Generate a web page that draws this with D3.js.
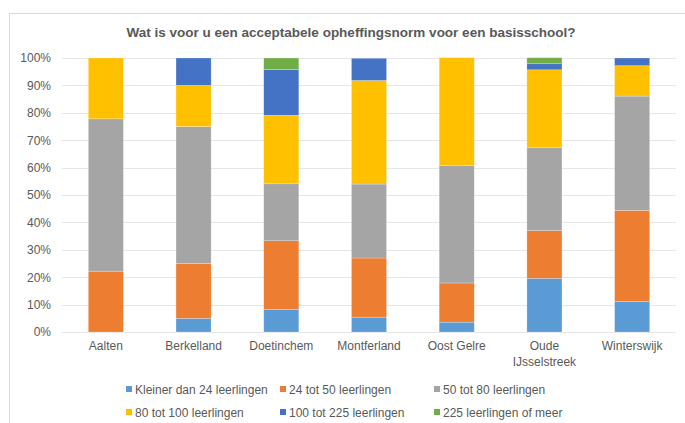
<!DOCTYPE html>
<html lang="nl">
<head>
<meta charset="utf-8">
<title>Opheffingsnorm basisschool</title>
<script src="https://cdn.jsdelivr.net/npm/d3@7"></script>
<style>
  body { margin: 0; background: #fff; }
  text { font-family: "Liberation Sans", Arial, sans-serif; }
</style>
</head>
<body>
<script>
// gemeenten
var categories = ["Aalten", "Berkelland", "Doetinchem", "Montferland", "Oost Gelre", "Oude IJsselstreek", "Winterswijk"];
var seriesNames = ["Kleiner dan 24 leerlingen", "24 tot 50 leerlingen", "50 tot 80 leerlingen",
                   "80 tot 100 leerlingen", "100 tot 225 leerlingen", "225 leerlingen of meer"];
// percentages per gemeente, in volgorde van seriesNames
var kleiner24 = [0, 5, 8.3, 5.4, 3.6, 19.6, 11.1];
var tot50     = [22.2, 20, 25, 21.6, 14.3, 17.4, 33.3];
var tot80     = [55.6, 50, 20.8, 27.0, 42.9, 30.4, 41.7];
var tot100    = [22.2, 15, 25, 37.8, 39.3, 28.3, 11.1];
var tot225    = [0, 10, 16.7, 8.1, 0, 2.2, 2.8];
var meer225   = [0, 0, 4.2, 0, 0, 2.2, 0];
var yTicks = [0, 10, 20, 30, 40, 50, 60, 70, 80, 90, 100];

var colors = ["#5B9BD5", "#ED7D31", "#A5A5A5", "#FFC000", "#4472C4", "#70AD47"];

var w = 685, h = 423;
var margin = { top: 58, right: 9, bottom: 91, left: 62 };

var rows = categories.map(function (c, i) {
    return { cat: c, s0: kleiner24[i], s1: tot50[i], s2: tot80[i], s3: tot100[i], s4: tot225[i], s5: meer225[i] };
});
var keys = ["s0", "s1", "s2", "s3", "s4", "s5"];
var stacked = d3.stack().keys(keys)(rows);

var x = d3.scaleBand().domain(categories).range([margin.left, w - margin.right]).paddingInner(0.6).paddingOuter(0.3);
var y = d3.scaleLinear().domain([0, 100]).range([h - margin.bottom, margin.top]);

var svg = d3.select("body").append("svg").attr("width", w).attr("height", h);

// kader
svg.append("rect").attr("x", 9.5).attr("y", 13.5).attr("width", 700).attr("height", 430)
    .attr("fill", "none").attr("stroke", "#d9d9d9");

svg.append("text").attr("x", 351).attr("y", 37).attr("text-anchor", "middle")
    .attr("font-size", "13.5px").attr("font-weight", "bold").attr("fill", "#595959")
    .text("Wat is voor u een acceptabele opheffingsnorm voor een basisschool?");

// rasterlijnen
svg.append("g").selectAll("line").data(yTicks).enter().append("line")
    .attr("x1", margin.left).attr("x2", w - margin.right)
    .attr("y1", function (d) { return Math.round(y(d)) + 0.5; })
    .attr("y2", function (d) { return Math.round(y(d)) + 0.5; })
    .attr("stroke", "#e6e6e6").attr("stroke-width", 1);

var yAxis = svg.append("g").attr("transform", "translate(" + (margin.left - 8) + ",0)")
    .call(d3.axisLeft(y).tickValues(yTicks).tickSize(0).tickFormat(function (d) { return d + "%"; }));
yAxis.select(".domain").remove();
yAxis.selectAll("text").attr("font-size", "12px").attr("fill", "#595959").attr("font-family", "Liberation Sans, Arial, sans-serif");

svg.append("g").selectAll("g").data(stacked).enter().append("g")
    .attr("fill", function (d, i) { return colors[i]; })
    .selectAll("rect").data(function (d) { return d; }).enter().append("rect")
    .attr("x", function (d) { return x(d.data.cat); })
    .attr("width", x.bandwidth())
    .attr("y", function (d) { return y(d[1]); })
    .attr("height", function (d) { return y(d[0]) - y(d[1]); })
    .attr("stroke", "#ffffff").attr("stroke-opacity", 0.4).attr("stroke-width", 0.6);

// categorie-labels
var xl = svg.append("g").selectAll("text").data(categories).enter().append("text")
    .attr("x", function (d) { return x(d) + x.bandwidth() / 2; })
    .attr("y", 350)
    .attr("text-anchor", "middle").attr("font-size", "12px").attr("fill", "#595959");
xl.each(function (d) {
    var parts = d === "Oude IJsselstreek" ? ["Oude", "IJsselstreek"] : [d];
    var t = d3.select(this);
    parts.forEach(function (p, i) {
        t.append("tspan").attr("x", x(d) + x.bandwidth() / 2).attr("dy", i === 0 ? 0 : 16).text(p);
    });
});

// legenda
var legX = [126, 280, 434], legY = [389, 412];
var leg = svg.append("g").selectAll("g").data(seriesNames).enter().append("g")
    .attr("transform", function (d, i) { return "translate(" + legX[i % 3] + "," + legY[Math.floor(i / 3)] + ")"; });
leg.append("rect").attr("x", 0).attr("y", -3).attr("width", 6).attr("height", 6)
    .attr("fill", function (d, i) { return colors[i]; });
leg.append("text").attr("x", 9).attr("y", 4.5).attr("font-size", "12px").attr("fill", "#595959")
    .text(function (d) { return d; });
</script>
</body>
</html>
